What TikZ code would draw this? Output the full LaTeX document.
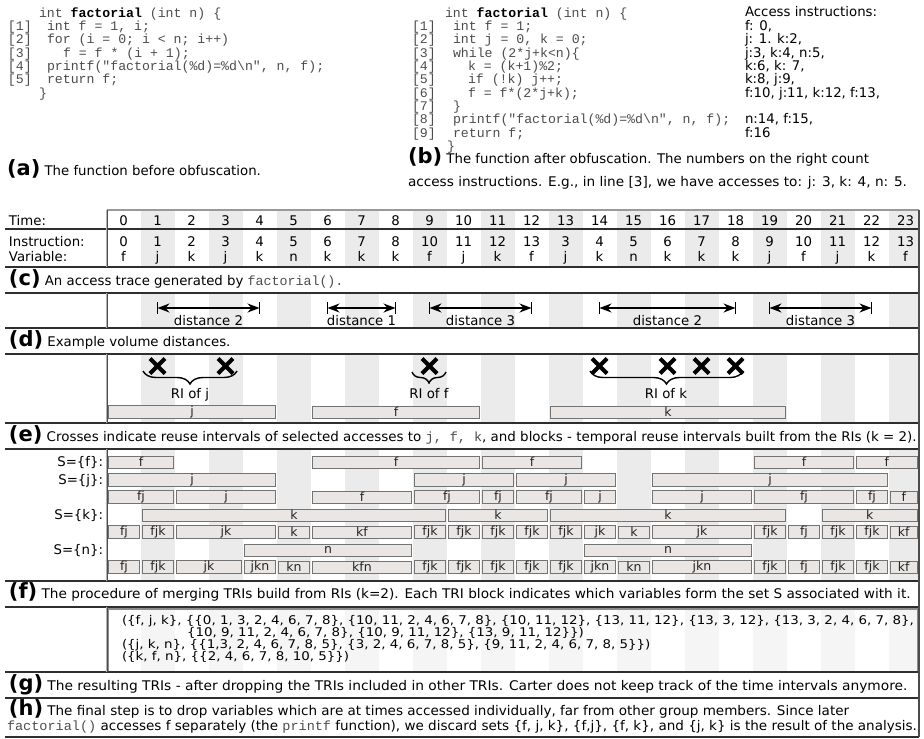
\documentclass[tikz,border=0pt]{standalone}
\usepackage{fontspec}
\setmainfont{DejaVu Sans}
\newfontfamily\codefont{Liberation Mono}
\usepackage{graphicx}
\usetikzlibrary{arrows.meta,decorations.pathreplacing,shapes.misc}
\definecolor{band}{HTML}{EBEBEB}
\definecolor{bandlight}{HTML}{F5F5F5}
\definecolor{blockfill}{HTML}{E9E6E3}
\definecolor{codegray}{HTML}{4D4D4D}
\definecolor{rulecol}{HTML}{2E2E2E}
\newcommand\txt{\fontsize{13.3}{15}\selectfont}
\newcommand\gtxt{\fontsize{12}{12.5}\selectfont}
\newcommand\lbl{\fontsize{21}{21}\selectfont\bfseries}
\newcommand\cdf{\fontsize{13.2}{13.3}\selectfont\codefont}
\newcommand\mytt[1]{{\codefont\color{codegray}#1}}
\newcounter{blkc}
\newdimen\glen
\newdimen\hlen
\newcommand\blk[4]{%
  \stepcounter{blkc}%
  \pgfmathsetmacro\bxa{107+34*#2+1}%
  \pgfmathsetmacro\bxb{min(107+34*(#3+1)-1,917.5)}%
  \pgfmathsetmacro\bxc{(\bxa+\bxb)/2}%
  \pgfmathsetmacro\bwd{\bxb-\bxa-1}%
  \node[blockbox, minimum width=\bwd pt] (blk\theblkc) at (\bxc,#1) {#4};%
}
\newcommand\gone{(\{f, j, k\}, \{\{0, 1, 3, 2, 4, 6, 7, 8\}, \{10, 11, 2, 4, 6, 7, 8\}, \{10, 11, 12\}, \{13, 11, 12\}, \{13, 3, 12\}, \{13, 3, 2, 4, 6, 7, 8\},}
\newcommand\htwo{\mytt{factorial()} accesses f separately (the \mytt{printf} function), we discard sets \{f, j, k\}, \{f,j\}, \{f, k\}, and \{j, k\} is the result of the analysis.}
\begin{document}
\settowidth\glen{\gtxt\gone}%
\settowidth\hlen{\txt\htwo}%
\pgfmathsetmacro\gfac{792/\glen}%
\pgfmathsetmacro\hfac{910/\hlen}%
\begin{tikzpicture}[x=1pt,y=-1pt,
  txtnode/.style={inner sep=0pt, outer sep=0pt, font=\txt},
  gline/.style={inner sep=0pt, outer sep=0pt, anchor=base west, font=\gtxt},
  codeline/.style={inner sep=0pt, outer sep=0pt, anchor=base west, font=\cdf, text=codegray},
  blockbox/.style={draw=black!55, line width=1pt, fill=blockfill, minimum height=12pt, inner sep=0pt, outer sep=0pt, font=\fontsize{12.5}{12.5}\selectfont, text=black!85},
  hrule/.style={draw=rulecol, line width=1.2pt},
  vshade/.style={draw=black!30, line width=2.8pt},
  vcore/.style={draw=black!70, line width=1pt},
  distarrow/.style={line width=1.4pt, {Stealth[length=12pt,width=9pt]}-{Stealth[length=12pt,width=9pt]}},
  endbar/.style={line width=1pt},
  xmark/.style={draw, cross out, line width=4pt, minimum size=11pt, inner sep=0pt},
  ribrace/.style={decorate, decoration={brace, mirror, amplitude=#1}, line width=1.4pt},
  ribrace/.default=13pt]
\useasboundingbox (0,0) rectangle (924,739);
\fill[white] (0,0) rectangle (924,739);

% ---------- (a) code ----------
\node[codeline] (ca0) at (39,17) {int \textbf{\color{black}factorial} (int n) \{};
\node[codeline] (ca1n) at (8,30.5) {[1]};
\node[codeline] (ca1) at (47,30.5) {int f = 1, i;};
\node[codeline] (ca2n) at (8,43.5) {[2]};
\node[codeline] (ca2) at (47,43.5) {for (i = 0; i < n; i++)};
\node[codeline] (ca3n) at (8,57) {[3]};
\node[codeline] (ca3) at (63,57) {f = f * (i + 1);};
\node[codeline] (ca4n) at (8,70) {[4]};
\node[codeline] (ca4) at (47,70) {printf("factorial(\%d)=\%d\textbackslash n", n, f);};
\node[codeline] (ca5n) at (8,83.5) {[5]};
\node[codeline] (ca5) at (47,83.5) {return f;};
\node[codeline] (ca6) at (39,97) {\}};

% ---------- (b) code ----------
\node[codeline] (cb0) at (445,17) {int \textbf{\color{black}factorial} (int n) \{};
\node[codeline] (cb1n) at (412,30.5) {[1]};
\node[codeline] (cb1) at (453,30.5) {int f = 1;};
\node[codeline] (cb2n) at (412,43.5) {[2]};
\node[codeline] (cb2) at (453,43.5) {int j = 0, k = 0;};
\node[codeline] (cb3n) at (412,57) {[3]};
\node[codeline] (cb3) at (453,57) {while (2*j+k<n)\{};
\node[codeline] (cb4n) at (412,70) {[4]};
\node[codeline] (cb4) at (468,70) {k = (k+1)\%2;};
\node[codeline] (cb5n) at (412,83.5) {[5]};
\node[codeline] (cb5) at (468,83.5) {if (!k) j++;};
\node[codeline] (cb6n) at (412,97) {[6]};
\node[codeline] (cb6) at (468,97) {f = f*(2*j+k);};
\node[codeline] (cb7n) at (412,110.5) {[7]};
\node[codeline] (cb7) at (453,110.5) {\}};
\node[codeline] (cb8n) at (412,123.5) {[8]};
\node[codeline] (cb8) at (453,123.5) {printf("factorial(\%d)=\%d\textbackslash n", n, f);};
\node[codeline] (cb9n) at (412,137) {[9]};
\node[codeline] (cb9) at (453,137) {return f;};
\node[codeline] (cb10) at (447,150) {\}};

% access instructions
\node[txtnode, anchor=base west] (ai0) at (745,16) {Access instructions:};
\node[txtnode, anchor=base west] (ai1) at (745,30.5) {f: 0,};
\node[txtnode, anchor=base west] (ai2) at (745,43.5) {j: 1. k:2,};
\node[txtnode, anchor=base west] (ai3) at (745,57) {j:3, k:4, n:5,};
\node[txtnode, anchor=base west] (ai4) at (745,70) {k:6, k: 7,};
\node[txtnode, anchor=base west] (ai5) at (745,83.5) {k:8, j:9,};
\node[txtnode, anchor=base west] (ai6) at (745,97) {f:10, j:11, k:12, f:13,};
\node[txtnode, anchor=base west] (ai8) at (745,123.5) {n:14, f:15,};
\node[txtnode, anchor=base west] (ai9) at (745,137) {f:16};

% captions a, b
\node[txtnode, anchor=base west] (capa) at (7,175) {{\lbl(a)} The function before obfuscation.};
\node[txtnode, anchor=base west] (capb1) at (408,163) {{\lbl(b)} The function after obfuscation. The numbers on the right count};
\node[txtnode, anchor=base west] (capb2) at (408,186) {\resizebox{499pt}{\height}{access instructions. E.g., in line [3], we have accesses to: j: 3, k: 4, n: 5.}};

% ---------- column bands ----------
\foreach \i in {1,3,...,23} {
  \pgfmathsetmacro\xa{107+34*\i}
  \pgfmathsetmacro\xb{min(141+34*\i,919)}
  \foreach \ya/\yb in {210/267, 293/328, 354/423, 449/581} {
    \fill[band] (\xa,\ya) rectangle (\xb,\yb);
  }
  \fill[bandlight] (\xa,607) rectangle (\xb,672);
}

% ---------- (c) trace ----------
\node[txtnode, anchor=base west] (ltime) at (9,225.5) {Time:};
\node[txtnode, anchor=base west] (linstr) at (9,246.5) {Instruction:};
\node[txtnode, anchor=base west] (lvar) at (9,261) {Variable:};
\foreach \i in {0,...,23} {
  \node[txtnode, anchor=base] (t\i) at ({123.5+34*\i},225.5) {\i};
}
\foreach \i/\v in {0/0,1/1,2/2,3/3,4/4,5/5,6/6,7/7,8/8,9/10,10/11,11/12,12/13,13/3,14/4,15/5,16/6,17/7,18/8,19/9,20/10,21/11,22/12,23/13} {
  \node[txtnode, anchor=base] (ins\i) at ({123.5+34*\i},246.5) {\v};
}
\foreach \i/\v in {0/f,1/j,2/k,3/j,4/k,5/n,6/k,7/k,8/k,9/f,10/j,11/k,12/f,13/j,14/k,15/n,16/k,17/k,18/k,19/j,20/f,21/j,22/k,23/f} {
  \node[txtnode, anchor=base] (var\i) at ({123.5+34*\i},261) {\v};
}
\node[txtnode, anchor=base west] (capc) at (9,285.5) {{\lbl(c)} An access trace generated by \mytt{factorial().}};

% ---------- (d) distances ----------
\foreach \ca/\cb/\dn [count=\q] in {1/4/2, 6/8/1, 9/12/3, 14/18/2, 19/22/3} {
  \coordinate (da\q) at ({123.5+34*\ca},308);
  \coordinate (db\q) at ({123.5+34*\cb},308);
  \draw[distarrow] (da\q) -- (db\q);
  \draw[endbar] ([yshift=6pt]da\q) -- ([yshift=-6pt]da\q);
  \draw[endbar] ([yshift=6pt]db\q) -- ([yshift=-6pt]db\q);
  \node[txtnode, anchor=base] (dl\q) at ({123.5+17*(\ca+\cb)},325.5) {distance \dn};
}
\node[txtnode, anchor=base west] (capd) at (9,346) {{\lbl(d)} Example volume distances.};

% ---------- (e) reuse intervals ----------
\foreach \c [count=\q] in {1,3,9,14,16,17,18} {
  \node[xmark] (xm\q) at ({123.5+34*\c},366) {};
}
\coordinate (brja) at (143,371);
\coordinate (brjb) at (237,371);
\coordinate (brfa) at (412,372);
\coordinate (brfb) at (446,372);
\coordinate (brka) at (590,371);
\coordinate (brkb) at (743,371);
\draw[ribrace] (brja) -- (brjb);
\draw[ribrace=11pt] (brfa) -- (brfb);
\draw[ribrace] (brka) -- (brkb);
\node[txtnode, anchor=base] (rij) at (190,398) {RI of j};
\node[txtnode, anchor=base] (rif) at (429,398) {RI of f};
\node[txtnode, anchor=base] (rik) at (666,398) {RI of k};
\blk{412}{0}{4}{j}\blk{412}{6}{10}{f}\blk{412}{13}{19}{k}
\node[txtnode, anchor=base west] (cape) at (9,441) {{\lbl(e)} \resizebox{870pt}{\height}{Crosses indicate reuse intervals of selected accesses to \mytt{j, f, k}, and blocks - temporal reuse intervals built from the RIs (k = 2).}};

% ---------- (f) merging ----------
\node[txtnode, anchor=base east] (sf) at (103,466.5) {S=\{f\}:};
\node[txtnode, anchor=base east] (sj) at (103,484.5) {S=\{j\}:};
\node[txtnode, anchor=base east] (sk) at (103,519.5) {S=\{k\}:};
\node[txtnode, anchor=base east] (sn) at (103,554.5) {S=\{n\}:};
% row 1
\blk{462}{0}{1}{f}\blk{462}{6}{10}{f}\blk{462}{11}{13}{f}\blk{462}{19}{21}{f}\blk{462}{22}{23}{f}
% row 2
\blk{480}{0}{4}{j}\blk{480}{9}{11}{j}\blk{480}{12}{14}{j}\blk{480}{16}{22}{j}
% row 3
\blk{497}{0}{1}{fj}\blk{497}{2}{4}{j}\blk{497}{6}{8}{f}\blk{497}{9}{10}{fj}\blk{497}{11}{11}{fj}\blk{497}{12}{13}{fj}\blk{497}{14}{14}{j}\blk{497}{16}{18}{j}\blk{497}{19}{21}{fj}\blk{497}{22}{22}{fj}\blk{497}{23}{23}{f}
% row 4
\blk{515}{1}{9}{k}\blk{515}{10}{12}{k}\blk{515}{13}{19}{k}\blk{515}{21}{23}{k}
% row 5
\blk{532}{0}{0}{fj}\blk{532}{1}{1}{fjk}\blk{532}{2}{4}{jk}\blk{532}{5}{5}{k}\blk{532}{6}{8}{kf}
\blk{532}{9}{9}{fjk}\blk{532}{10}{10}{fjk}\blk{532}{11}{11}{fjk}\blk{532}{12}{12}{fjk}\blk{532}{13}{13}{fjk}
\blk{532}{14}{14}{jk}\blk{532}{15}{15}{k}\blk{532}{16}{18}{jk}\blk{532}{19}{19}{fjk}\blk{532}{20}{20}{fj}\blk{532}{21}{21}{fjk}\blk{532}{22}{22}{fjk}\blk{532}{23}{23}{kf}
% row 6
\blk{550}{4}{8}{n}\blk{550}{14}{18}{n}
% row 7
\blk{567}{0}{0}{fj}\blk{567}{1}{1}{fjk}\blk{567}{2}{3}{jk}\blk{567}{4}{4}{jkn}\blk{567}{5}{5}{kn}\blk{567}{6}{8}{kfn}
\blk{567}{9}{9}{fjk}\blk{567}{10}{10}{fjk}\blk{567}{11}{11}{fjk}\blk{567}{12}{12}{fjk}\blk{567}{13}{13}{fjk}
\blk{567}{14}{14}{jkn}\blk{567}{15}{15}{kn}\blk{567}{16}{18}{jkn}\blk{567}{19}{19}{fjk}\blk{567}{20}{20}{fj}\blk{567}{21}{21}{fjk}\blk{567}{22}{22}{fjk}\blk{567}{23}{23}{kf}
\node[txtnode, anchor=base west] (capf) at (9,598) {{\lbl(f)} \resizebox{869pt}{\height}{The procedure of merging TRIs build from RIs (k=2). Each TRI block indicates which variables form the set S associated with it.}};

% ---------- (g) resulting TRIs ----------
\draw[draw=black!45, line width=2pt] (108,608.5) rectangle (918,671.5);
\node[gline] (g1) at (122,624) {\scalebox{\gfac}[1]{\gone}};
\node[gline] (g2) at (187,636) {\scalebox{\gfac}[1]{\{10, 9, 11, 2, 4, 6, 7, 8\}, \{10, 9, 11, 12\}, \{13, 9, 11, 12\}\})}};
\node[gline] (g3) at (122,648) {\scalebox{\gfac}[1]{(\{j, k, n\}, \{\{1,3, 2, 4, 6, 7, 8, 5\}, \{3, 2, 4, 6, 7, 8, 5\}, \{9, 11, 2, 4, 6, 7, 8, 5\}\})}};
\node[gline] (g4) at (122,660) {\scalebox{\gfac}[1]{(\{k, f, n\}, \{\{2, 4, 6, 7, 8, 10, 5\}\})}};
\node[txtnode, anchor=base west] (capg) at (9,690) {{\lbl(g)} \resizebox{860pt}{\height}{The resulting TRIs - after dropping the TRIs included in other TRIs. Carter does not keep track of the time intervals anymore.}};

% ---------- (h) ----------
\node[txtnode, anchor=base west] (caph1) at (9,715) {{\lbl(h)} \scalebox{\hfac}[1]{The final step is to drop variables which are at times accessed individually, far from other group members. Since later}};
\node[txtnode, anchor=base west] (caph2) at (7,730.5) {\scalebox{\hfac}[1]{\htwo}};

% ---------- rules ----------
\draw[draw=black!40, line width=1.6pt] (107,210) -- (919,210);
\foreach \yy in {229,267,293,328,354,423,449,581,607,672,698,737} {
  \draw[hrule] (5,\yy) -- (919,\yy);
}
\foreach \ya/\yb in {210/267, 293/328, 354/423, 449/581, 607/672} {
  \draw[vshade] (107,\ya) -- (107,\yb);
  \draw[vcore] (107,\ya) -- (107,\yb);
}
\draw[draw=black!70, line width=1.2pt] (919,210) -- (919,737);
\end{tikzpicture}
\end{document}
